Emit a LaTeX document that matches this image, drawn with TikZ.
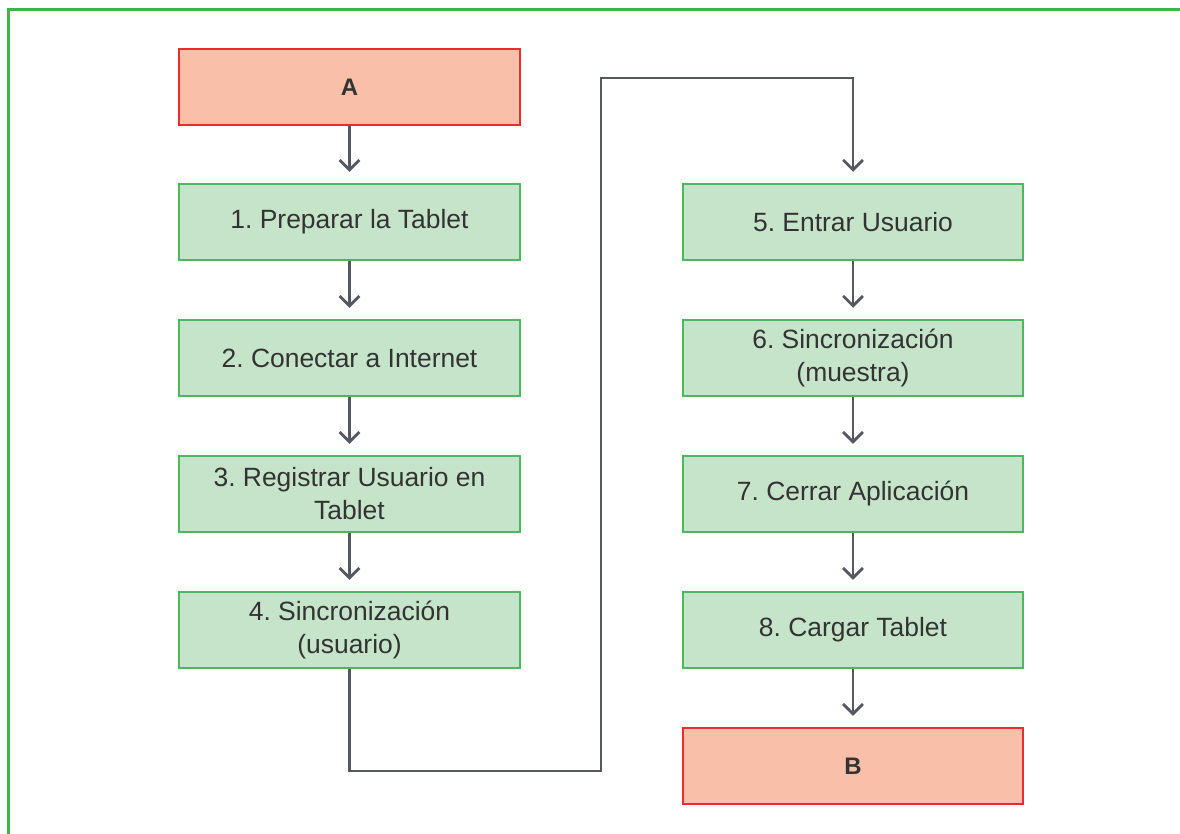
\documentclass[tikz,border=0pt]{standalone}
\usepackage{fontspec}
\setmainfont{Liberation Sans}
\usetikzlibrary{arrows.meta}
\definecolor{marco}{HTML}{3DB54A}
\definecolor{pasoborde}{HTML}{4DB860}
\definecolor{pasofondo}{HTML}{C6E4C9}
\definecolor{finborde}{HTML}{EE2A2F}
\definecolor{finfondo}{HTML}{F9BFA8}
\definecolor{flecha}{HTML}{555861}
\definecolor{texto}{HTML}{333333}
\frenchspacing
\begin{document}
\begin{tikzpicture}[x=0.025cm,y=-0.025cm,
    paso/.style={draw=pasoborde,fill=pasofondo,line width=1.4pt,minimum width=8.5cm,
      minimum height=1.9cm,align=center,text=texto,font=\fontsize{18.8}{23.5}\selectfont},
    fin/.style={paso,draw=finborde,fill=finfondo,font=\fontsize{17}{20}\selectfont\bfseries},
    flujo/.style={draw=flecha,line width=2pt,-{Straight Barb[length=7pt,width=14pt]},shorten >=8pt}]
        \useasboundingbox (0,0) rectangle (1180,834);
        \draw[marco,line width=1.5pt] (8.5,834) -- (8.5,9.5) -- (1180,9.5);
        % columna izquierda
        \node[fin] (A) at (349.5,87) {A};
        \node[paso] (p1) at (349.5,222) {1. Preparar la Tablet};
        \node[paso] (p2) at (349.5,358) {2. Conectar a Internet};
        \node[paso] (p3) at (349.5,494) {3. Registrar Usuario en\\Tablet};
        \node[paso] (p4) at (349.5,630) {4. Sincronización\\(usuario)};
        % columna derecha
        \node[paso] (p5) at (853,222) {5. Entrar Usuario};
        \node[paso] (p6) at (853,358) {6. Sincronización\\(muestra)};
        \node[paso] (p7) at (853,494) {7. Cerrar Aplicación};
        \node[paso] (p8) at (853,630) {8. Cargar Tablet};
        \node[fin] (B) at (853,766) {B};
        \draw[flujo] (A) -- (p1);
        \draw[flujo] (p1) -- (p2);
        \draw[flujo] (p2) -- (p3);
        \draw[flujo] (p3) -- (p4);
        \draw[flujo] (p4.south) |- (601,771) |- (853,78) -- (p5.north);
        \draw[flujo] (p5) -- (p6);
        \draw[flujo] (p6) -- (p7);
        \draw[flujo] (p7) -- (p8);
        \draw[flujo] (p8) -- (B);
\end{tikzpicture}
\end{document}
